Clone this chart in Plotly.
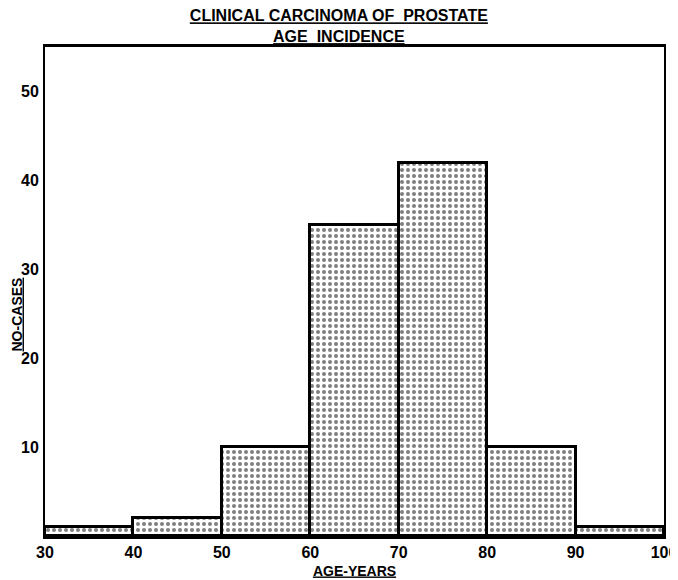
import plotly.graph_objects as go

bin_start = [30, 40, 50, 60, 70, 80, 90]
counts = [1, 2, 10, 35, 42, 10, 1]
bin_width = 10
y_ticks = [10, 20, 30, 40, 50]
x_ticks = [30, 40, 50, 60, 70, 80, 90, 100]

fig = go.Figure()
fig.add_trace(go.Bar(
    x=bin_start, y=counts, width=[bin_width] * len(bin_start), offset=0,
    marker=dict(
        color="white",
        line=dict(color="black", width=3),
        pattern=dict(shape=".", fgcolor="black", bgcolor="white", size=6, solidity=0.35),
    ),
    showlegend=False,
))

font = dict(family="Liberation Sans", size=15, color="black")

fig.update_layout(
    width=678, height=580,
    margin=dict(l=37, r=22, t=39, b=52, autoexpand=False),
    paper_bgcolor="white", plot_bgcolor="white",
    bargap=0,
    font=font,
    title=dict(
        text="<u><b>CLINICAL CARCINOMA OF  PROSTATE</b></u><br><u><b>AGE  INCIDENCE</b></u>",
        x=0.488, xref="container", xanchor="center",
        y=0.977, yref="container", yanchor="top",
        font=dict(family="Liberation Sans", size=16, color="black"),
    ),
    xaxis=dict(
        range=[30, 100], tickvals=x_ticks, ticktext=[f"<b>{v}</b>" for v in x_ticks],
        showgrid=False, zeroline=False, ticks="", showline=True, linecolor="black",
        linewidth=3, mirror=True, automargin=False,
        title=dict(text="<u><b>AGE-YEARS</b></u>", standoff=6, font=dict(size=14)),
        tickfont=dict(size=16),
    ),
    yaxis=dict(
        range=[0, 55], tickvals=y_ticks, ticktext=[f"<b>{v}</b>" for v in y_ticks],
        showgrid=False, zeroline=False, ticks="", showline=True, linecolor="black",
        linewidth=2, mirror=True, automargin=False,
        tickfont=dict(size=16), ticklabelstandoff=1,
    ),
    annotations=[dict(
        text="<u><b>NO-CASES</b></u>", textangle=-90,
        xref="paper", yref="paper", x=-0.046, y=0.452,
        xanchor="center", yanchor="middle", showarrow=False,
        font=dict(family="Liberation Sans", size=14, color="black"),
    )],
)

fig.write_html("out.html")
